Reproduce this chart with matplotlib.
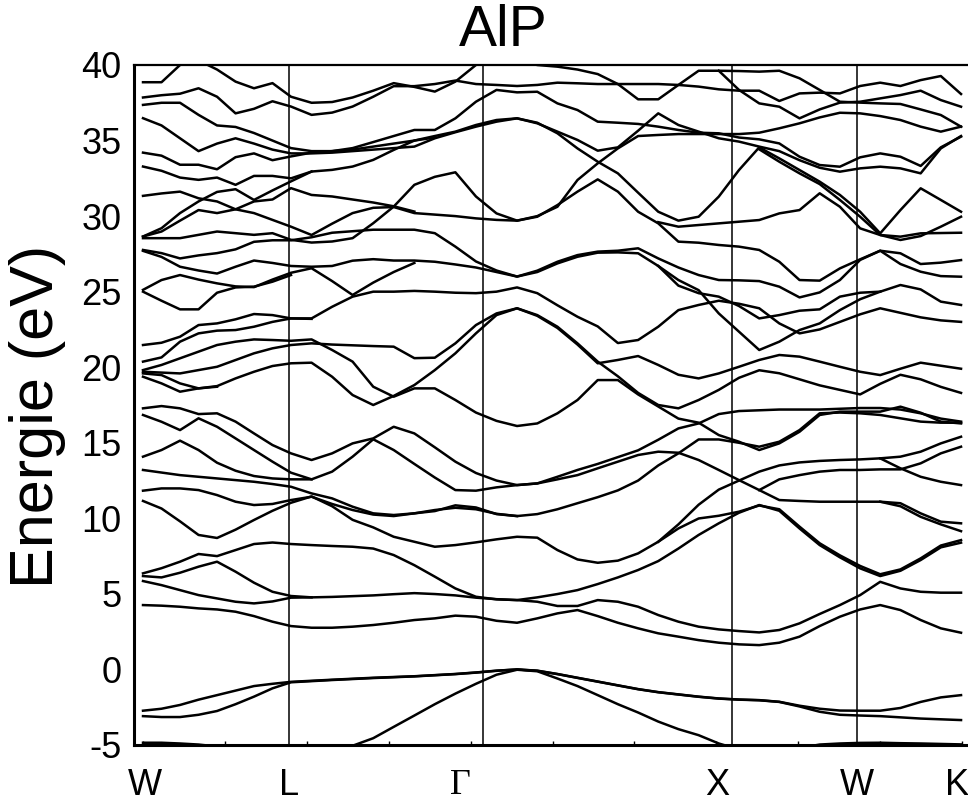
import matplotlib.pyplot as plt

plt.rcParams['axes.unicode_minus'] = False

# sample positions along the path W-L-G-X-W-K (W = 0, K = 100)
k_grid = [0.0, 2.26, 4.52, 6.78, 9.04, 11.30, 13.55, 15.81, 18.07, 20.58,
          23.09, 25.59, 28.11, 30.61, 33.13, 35.63, 38.14, 40.65, 43.16, 45.67,
          48.14, 50.60, 53.05, 55.52, 57.98, 60.45, 62.91, 65.37, 67.84, 70.30,
          72.77, 75.24, 77.69, 80.16, 82.62, 85.09, 87.56, 90.01, 92.48, 94.95,
          97.41, 99.88]

sym_lines = [17.83, 41.51, 71.92, 87.18]
label_pos = [0.2, 17.8, 38.7, 70.1, 87.2, 99.4]
label_txt = ['W', 'L', 'Γ', 'X', 'W', 'K']

# bands: (sample index, energy in eV)
valence = [
    [(0, -4.85), (1, -4.85), (2, -4.9), (3, -4.97), (4, -5.1), (5, -5.5)],
    [(32, -5.6), (33, -5.2), (34, -4.97), (35, -4.9), (36, -4.86), (37, -4.85), (38, -4.88), (39, -4.9), (40, -4.93), (41, -4.96)],
    [(11, -5.05), (12, -4.55), (13, -3.8), (14, -3.05), (15, -2.3), (16, -1.6), (17, -0.95), (18, -0.35), (19, -0.02), (20, -0.12),
     (21, -0.6), (22, -1.1), (23, -1.7), (24, -2.3), (25, -2.85), (26, -3.45), (27, -3.95), (28, -4.35), (29, -4.9), (30, -5.3)],
    [(0, -2.73), (1, -2.6), (2, -2.35), (3, -2.0), (4, -1.7), (5, -1.4), (6, -1.1), (7, -0.95), (8, -0.82), (10, -0.68), (12, -0.55),
     (14, -0.45), (16, -0.3), (17, -0.2), (18, -0.08), (19, 0.0), (20, -0.08), (21, -0.3), (22, -0.55), (23, -0.8), (24, -1.05),
     (25, -1.3), (26, -1.5), (27, -1.65), (28, -1.8), (29, -1.92), (30, -1.99), (31, -2.03), (32, -2.14), (33, -2.4), (34, -2.6),
     (35, -2.72), (36, -2.73), (37, -2.73), (38, -2.55), (39, -2.15), (40, -1.85), (41, -1.7)],
    [(0, -3.09), (1, -3.15), (2, -3.15), (3, -3.0), (4, -2.75), (5, -2.3), (6, -1.8), (7, -1.25), (8, -0.85), (10, -0.7), (12, -0.57),
     (14, -0.46), (16, -0.31), (17, -0.21), (18, -0.09), (19, 0.0), (20, -0.09), (21, -0.31), (22, -0.56), (23, -0.81), (24, -1.06),
     (25, -1.31), (26, -1.51), (27, -1.66), (28, -1.81), (29, -1.93), (30, -2.0), (31, -2.04), (32, -2.15), (33, -2.45), (34, -2.8),
     (35, -3.0), (36, -3.05), (37, -3.09), (38, -3.17), (39, -3.25), (40, -3.3), (41, -3.35)],
]

cond_low = [
    [(0, 4.26), (1, 4.22), (2, 4.15), (3, 4.04), (4, 3.97), (5, 3.82), (6, 3.53), (7, 3.16), (8, 2.87), (9, 2.76), (10, 2.76),
     (11, 2.83), (12, 2.94), (13, 3.09), (14, 3.27), (15, 3.38), (16, 3.56), (17, 3.49), (18, 3.22), (19, 3.09), (20, 3.38),
     (21, 3.71), (22, 3.93), (23, 3.53), (24, 3.09), (25, 2.72), (26, 2.39), (27, 2.17), (28, 1.94), (29, 1.77), (30, 1.66),
     (31, 1.61), (32, 1.77), (33, 2.17), (34, 2.87), (35, 3.49), (36, 3.97), (37, 4.26), (38, 3.93), (39, 3.27), (40, 2.72), (41, 2.43)],
    [(0, 6.18), (1, 6.09), (2, 6.4), (3, 6.8), (4, 7.13), (5, 6.47), (6, 5.74), (7, 5.14), (8, 4.86), (9, 4.77), (10, 4.8),
     (11, 4.85), (12, 4.9), (13, 4.98), (14, 5.05), (15, 4.99), (16, 4.9), (17, 4.75), (18, 4.65), (19, 4.59), (20, 4.48),
     (21, 4.2), (22, 4.2), (23, 4.59), (24, 4.48), (25, 4.15), (26, 3.6), (27, 3.16), (28, 2.83), (29, 2.65), (30, 2.54),
     (31, 2.45), (32, 2.61), (33, 3.05), (34, 3.67), (35, 4.26), (36, 4.92), (37, 5.8), (38, 5.36), (39, 5.14), (40, 5.08), (41, 5.08)],
    [(0, 5.85), (1, 5.58), (2, 5.25), (3, 4.92), (4, 4.7), (5, 4.48), (6, 4.37), (7, 4.5), (8, 4.75), (9, 4.77)],
    [(0, 6.36), (1, 6.7), (2, 7.13), (3, 7.64), (4, 7.5), (5, 7.9), (6, 8.3), (7, 8.4), (8, 8.3), (9, 8.23), (10, 8.17),
     (11, 8.12), (12, 8.0), (13, 7.57), (14, 6.9), (15, 6.14), (16, 5.36), (17, 4.81), (18, 4.64), (19, 4.59), (20, 4.77),
     (21, 4.99), (22, 5.25), (23, 5.65), (24, 6.09), (25, 6.58), (26, 7.17), (27, 8.0), (28, 8.9), (29, 9.67), (30, 10.37),
     (31, 10.88), (32, 10.5), (33, 9.33), (34, 8.23), (35, 7.42), (36, 6.69), (37, 6.18), (38, 6.53), (39, 7.24), (40, 8.08), (41, 8.39)],
    [(0, 11.15), (1, 10.65), (2, 9.8), (3, 8.9), (4, 8.7), (5, 9.25), (6, 9.89), (7, 10.5), (8, 11.03), (9, 11.45), (10, 10.8),
     (11, 9.9), (12, 9.4), (13, 8.78), (14, 8.45), (15, 8.12), (16, 8.23), (17, 8.41), (18, 8.61), (19, 8.78), (20, 8.72),
     (21, 7.9), (22, 7.28), (23, 7.06), (24, 7.2), (25, 7.68), (26, 8.45), (27, 9.33), (28, 9.99), (29, 10.17), (30, 10.44),
     (31, 10.85), (32, 10.6), (33, 9.45), (34, 8.35), (35, 7.55), (36, 6.85), (37, 6.3), (38, 6.62), (39, 7.35), (40, 8.2), (41, 8.56)],
    [(0, 11.83), (1, 11.98), (2, 11.98), (3, 11.87), (4, 11.54), (5, 11.1), (6, 10.88), (7, 10.95), (8, 11.21), (9, 11.43),
     (10, 10.95), (11, 10.55), (12, 10.25), (13, 10.15), (14, 10.33), (15, 10.48), (16, 10.86), (17, 10.72), (18, 10.28),
     (19, 10.15), (20, 10.28), (21, 10.6), (22, 11.0), (23, 11.4), (24, 11.85), (25, 12.5), (26, 13.5), (27, 14.3), (28, 15.22),
     (29, 15.22), (30, 15.0), (31, 14.74), (32, 15.07), (33, 15.84), (34, 16.95), (35, 17.0), (36, 16.95), (37, 16.84),
     (38, 16.62), (39, 16.4), (40, 16.33), (41, 16.33)],
    [(0, 13.2), (2, 12.86), (4, 12.64), (6, 12.42), (7, 12.27), (8, 12.09), (9, 11.65), (10, 11.32), (11, 10.77), (12, 10.33),
     (13, 10.22), (14, 10.33), (15, 10.55), (16, 10.7), (17, 10.6), (18, 10.3), (19, 10.15)],
    [(26, 8.45), (27, 9.6), (28, 10.9), (29, 11.9), (30, 12.5), (31, 13.09), (32, 13.5), (33, 13.7), (34, 13.8), (35, 13.86),
     (36, 13.9), (37, 13.97), (38, 13.31), (39, 12.75), (40, 12.42), (41, 12.2)],
    [(37, 13.97), (38, 14.08), (39, 14.41), (40, 14.96), (41, 15.4)],
    [(31, 11.87), (32, 12.58), (33, 12.86), (34, 13.09), (35, 13.2), (36, 13.2), (37, 13.24), (38, 13.24), (39, 13.64),
     (40, 14.3), (41, 14.74)],
    [(37, 11.1), (38, 10.8), (39, 10.1), (40, 9.6), (41, 9.15)],
]

cond_mid = [
    [(0, 17.28), (1, 17.43), (2, 17.28), (3, 16.9), (4, 16.95), (5, 16.4), (6, 15.62), (7, 14.85), (8, 14.3), (9, 13.86),
     (10, 14.3), (11, 14.96), (12, 15.29), (13, 16.06), (14, 15.62), (15, 14.7), (16, 13.75), (17, 13.0), (18, 12.5), (19, 12.2),
     (20, 12.31), (21, 12.75), (22, 13.2), (23, 13.6), (24, 14.05), (25, 14.5), (26, 15.2), (27, 15.95), (28, 16.28), (29, 16.9),
     (30, 17.1), (31, 17.15), (32, 17.2), (33, 17.2), (34, 17.2), (35, 17.25), (36, 17.3), (37, 17.3), (38, 17.2), (39, 16.95),
     (40, 16.6), (41, 16.4)],
    [(0, 16.84), (1, 16.39), (2, 15.84), (3, 16.62), (4, 16.06), (5, 15.29), (6, 14.52), (7, 13.75), (8, 13.02), (9, 12.58),
     (10, 13.09), (11, 14.08), (12, 15.23), (13, 14.52), (14, 13.6), (15, 12.7), (16, 11.87), (17, 11.83), (18, 12.05), (19, 12.2),
     (20, 12.31), (21, 12.58), (22, 12.86), (23, 13.31), (24, 13.75), (25, 14.19), (26, 14.41), (27, 14.34), (28, 13.86),
     (29, 13.2), (30, 12.53), (31, 11.87), (32, 11.21), (33, 11.15), (34, 11.1), (35, 11.1), (36, 11.1), (37, 11.1), (38, 11.0),
     (39, 10.33), (40, 9.78), (41, 9.67)],
    [(0, 14.08), (1, 14.52), (2, 15.14), (3, 14.52), (4, 13.68), (5, 13.15), (6, 12.8), (7, 12.64), (8, 12.58), (9, 12.58)],
    [(0, 19.81), (1, 20.15), (2, 20.59), (3, 21.03), (4, 21.47), (5, 21.69), (6, 21.84), (7, 21.8), (8, 21.75), (9, 21.84),
     (10, 21.14), (11, 20.37), (12, 18.71), (13, 18.05), (14, 18.6), (15, 18.6), (16, 17.83), (17, 17.0), (18, 16.45), (19, 16.11),
     (20, 16.28), (21, 16.95), (22, 17.83), (23, 19.15), (24, 19.15), (25, 18.2), (26, 17.4), (27, 16.6), (28, 16.33), (29, 15.51),
     (30, 15.07), (31, 14.52), (32, 14.96), (33, 15.73), (34, 16.84), (35, 17.06), (36, 17.06), (37, 17.06), (38, 17.39),
     (39, 16.99), (40, 16.4), (41, 16.28)],
    [(0, 19.7), (2, 19.59), (4, 20.03), (6, 20.92), (7, 21.25), (8, 21.47), (9, 21.58), (10, 21.5), (11, 21.45), (12, 21.4),
     (13, 21.36), (14, 20.6), (15, 20.63), (16, 21.58), (17, 22.79), (18, 23.56), (19, 23.9), (20, 23.45), (21, 22.68), (22, 21.58),
     (23, 20.37), (24, 19.4), (25, 18.3), (26, 17.5), (27, 17.28), (28, 17.83), (29, 18.5), (30, 19.3), (31, 19.8), (32, 19.6),
     (33, 19.2), (34, 18.8), (35, 18.5), (36, 18.2), (37, 18.9), (38, 19.5), (39, 19.2), (40, 18.7), (41, 18.3)],
    [(0, 19.59), (1, 19.48), (2, 18.93), (3, 18.6), (4, 18.75), (5, 19.26), (6, 19.7), (7, 20.08), (8, 20.26), (9, 20.3),
     (10, 19.37), (11, 18.16), (12, 17.5), (13, 18.1), (14, 18.82), (15, 19.81), (16, 20.92), (17, 22.24), (18, 23.45), (19, 23.9),
     (20, 23.4), (21, 22.6), (22, 21.5), (23, 20.26), (24, 20.48), (25, 20.74), (26, 20.15), (27, 19.5), (28, 19.26), (29, 19.59),
     (30, 20.03), (31, 20.48), (32, 20.81), (33, 20.7), (34, 20.37), (35, 20.03), (36, 19.7), (37, 19.48), (38, 19.9), (39, 20.3),
     (40, 20.1), (41, 19.9)],
    [(0, 19.37), (1, 18.93), (2, 18.38), (3, 18.6), (4, 18.71)],
    [(0, 21.47), (1, 21.62), (2, 22.02), (3, 22.79), (4, 22.9), (5, 23.17), (6, 23.52), (7, 23.45), (8, 23.23), (9, 23.23),
     (10, 24.0), (11, 24.67), (12, 25.0), (13, 25.0), (14, 25.05), (15, 25.0), (16, 24.93), (17, 24.9), (18, 25.0), (19, 25.28),
     (20, 24.9), (21, 24.1), (22, 23.34), (23, 22.7), (24, 21.6), (25, 21.8), (26, 22.68), (27, 23.78), (28, 24.12), (29, 24.4),
     (30, 24.2), (31, 23.9), (32, 22.9), (33, 22.24), (34, 22.5), (35, 23.0), (36, 23.5), (37, 23.9), (38, 23.6), (39, 23.3),
     (40, 23.1), (41, 23.0)],
    [(0, 20.37), (1, 20.65), (2, 21.69), (3, 22.24), (4, 22.42), (5, 22.46), (6, 22.68), (7, 23.0), (8, 23.23), (9, 23.2)],
    [(0, 25.0), (1, 24.4), (2, 23.83), (3, 23.83), (4, 24.93), (5, 25.28), (6, 25.33), (7, 25.66), (8, 26.1)],
    [(26, 26.7), (27, 25.77), (28, 25.1), (29, 23.56), (30, 22.35), (31, 21.14), (32, 21.69), (33, 22.46), (34, 22.9),
     (35, 23.78), (36, 24.5), (37, 25.0)],
]

cond_high = [
    [(0, 38.86), (1, 38.86), (2, 40.0), (3, 40.3), (4, 39.7), (5, 38.9), (6, 38.46), (7, 38.8), (8, 37.9), (9, 37.5),
     (10, 37.55), (11, 37.85), (12, 38.3), (13, 38.8), (14, 38.55), (15, 38.24), (16, 38.9), (17, 40.0), (18, 40.6)],
    [(0, 37.85), (1, 38.0), (2, 38.1), (3, 38.46), (4, 37.9), (5, 36.8), (6, 37.1), (7, 37.6), (8, 37.25), (9, 36.7),
     (10, 36.85), (11, 37.25), (12, 37.9), (13, 38.6), (14, 38.6), (15, 38.74), (16, 38.97), (17, 38.74), (18, 38.68),
     (19, 38.61), (20, 38.68), (21, 38.83), (22, 38.79), (23, 38.74), (24, 38.74), (25, 38.74), (26, 38.74), (27, 38.68),
     (28, 38.57), (29, 38.39), (30, 38.3), (31, 38.3), (32, 37.62), (33, 38.12), (34, 38.17), (35, 38.12), (36, 38.61),
     (37, 38.83), (38, 38.61), (39, 39.0), (40, 39.27), (41, 38.08)],
    [(18, 40.5), (19, 40.3), (20, 40.0), (21, 39.89), (22, 39.7), (23, 39.4), (24, 38.74), (25, 37.73), (26, 37.73), (27, 38.68),
     (28, 39.62), (29, 39.62), (30, 39.6), (31, 39.56), (32, 39.62), (33, 39.12), (34, 38.35), (35, 37.57), (36, 37.51),
     (37, 37.46), (38, 37.42), (39, 37.06), (40, 36.69), (41, 35.92)],
    [(29, 39.62), (30, 38.35), (31, 37.46), (32, 37.24), (33, 36.47), (34, 37.06), (35, 37.51), (36, 37.57), (37, 37.79),
     (38, 38.01), (39, 38.3), (40, 37.68), (41, 37.24)],
    [(0, 37.36), (1, 37.5), (2, 37.5), (3, 36.7), (4, 36.0), (5, 35.9), (6, 35.5), (7, 35.0), (8, 34.5), (9, 34.3), (10, 34.3),
     (11, 34.5), (12, 34.9), (13, 35.3), (14, 35.7), (15, 35.7), (16, 36.47), (17, 37.57), (18, 38.35), (19, 38.19), (20, 38.23),
     (21, 37.46), (22, 37.02), (23, 36.25), (24, 36.18), (25, 36.1), (26, 35.92), (27, 35.7), (28, 35.52), (29, 35.48),
     (30, 35.2), (31, 35.08), (32, 34.81), (33, 33.93), (34, 33.38), (35, 33.27), (36, 33.89), (37, 34.15), (38, 33.93),
     (39, 33.32), (40, 34.55), (41, 35.26)],
    [(0, 36.48), (1, 36.0), (2, 35.15), (3, 34.3), (4, 34.8), (5, 35.15), (6, 34.8), (7, 34.4), (8, 34.15), (9, 34.15),
     (10, 34.2), (11, 34.3), (12, 34.4), (13, 34.5), (14, 34.6), (15, 35.15), (16, 35.55), (17, 35.92), (18, 36.25), (19, 36.47),
     (20, 36.14), (21, 35.59), (22, 35.04), (23, 34.33), (24, 34.55), (25, 35.65), (26, 36.8), (27, 36.03), (28, 35.59),
     (29, 35.15), (30, 34.93), (31, 34.6), (32, 34.3), (33, 33.7), (34, 33.2), (35, 32.94), (36, 33.16), (37, 33.27),
     (38, 33.16), (39, 32.83), (40, 34.48), (41, 35.3)],
    [(0, 34.2), (1, 34.0), (2, 33.4), (3, 33.4), (4, 33.1), (5, 33.9), (6, 34.15), (7, 33.7), (8, 33.95), (9, 34.2), (10, 34.3),
     (11, 34.4), (12, 34.6), (13, 34.8), (14, 35.0), (15, 35.3), (16, 35.59), (17, 36.03), (18, 36.36), (19, 36.47), (20, 36.18),
     (21, 35.48), (22, 34.48), (23, 33.6), (24, 32.83), (25, 31.55), (26, 30.29), (27, 29.7), (28, 29.96), (29, 31.29),
     (30, 33.05), (31, 34.55), (32, 33.82), (33, 33.05), (34, 32.28), (35, 31.4), (36, 30.29), (37, 28.86), (38, 30.4),
     (39, 31.84), (40, 31.07), (41, 30.29)],
    [(31, 34.42), (32, 33.6), (33, 32.83), (34, 32.12), (35, 31.07), (36, 29.96), (37, 28.75), (38, 28.64), (39, 28.86),
     (40, 28.88), (41, 28.9)],
    [(0, 33.28), (1, 33.0), (2, 32.55), (3, 32.4), (4, 32.55), (5, 32.07), (6, 32.66), (7, 32.66), (8, 32.5), (9, 32.95),
     (10, 33.06), (11, 33.28), (12, 33.72), (13, 34.38), (14, 35.0), (15, 35.2)],
    [(0, 31.34), (1, 31.5), (2, 31.62), (3, 31.18), (4, 30.97), (5, 30.45), (6, 30.97), (7, 31.1), (8, 31.85), (9, 31.4),
     (10, 31.3), (11, 31.1), (12, 30.9), (13, 30.65), (14, 30.3)],
    [(0, 28.65), (1, 29.2), (2, 30.2), (3, 30.97), (4, 31.6), (5, 31.78), (6, 31.07), (7, 31.7), (8, 32.3), (9, 32.95)],
    [(0, 28.65), (1, 28.98), (2, 29.7), (3, 30.4), (4, 30.2), (5, 30.45), (6, 30.2), (7, 29.75), (8, 29.3), (9, 28.75),
     (10, 29.5), (11, 30.2), (12, 30.55), (13, 30.6), (14, 30.2), (15, 30.1), (16, 30.0), (17, 29.85), (18, 29.75), (19, 29.7),
     (20, 30.0), (21, 30.62), (22, 32.39), (23, 33.49), (24, 34.48), (25, 35.3), (26, 35.37), (27, 35.43), (28, 35.43),
     (29, 35.43), (30, 35.43), (31, 35.52), (32, 35.81), (33, 36.14), (34, 36.53), (35, 36.84), (36, 36.8), (37, 36.62),
     (38, 36.36), (39, 35.92), (40, 35.59), (41, 35.92)],
    [(0, 28.54), (2, 28.54), (4, 28.98), (5, 28.87), (6, 28.76), (7, 28.87), (8, 28.43), (9, 28.25), (10, 28.32), (11, 28.54),
     (12, 29.53), (13, 30.63), (14, 32.07), (15, 32.6), (16, 32.9), (17, 31.3), (18, 30.18), (19, 29.7), (20, 29.96),
     (21, 30.73), (22, 31.62), (23, 32.43), (24, 31.62), (25, 30.29), (26, 29.52), (27, 28.31), (28, 28.24), (29, 28.09),
     (30, 27.98), (31, 27.76), (32, 26.98), (33, 25.77), (34, 25.73), (35, 26.54), (36, 27.14), (37, 27.71), (38, 26.83),
     (39, 26.32), (40, 26.03), (41, 25.99)],
    [(26, 29.6), (27, 29.3), (28, 29.41), (29, 29.52), (30, 29.63), (31, 29.74), (32, 30.18), (33, 30.4), (34, 31.51),
     (35, 30.62), (36, 29.19), (37, 28.75), (38, 28.42), (39, 28.68), (40, 29.3), (41, 29.96)],
    [(0, 27.76), (1, 27.55), (2, 27.2), (3, 27.4), (4, 27.55), (5, 27.8), (6, 28.3), (7, 28.4), (8, 28.4), (9, 28.6),
     (10, 28.9), (11, 29.0), (12, 29.1), (13, 29.1), (14, 29.1), (15, 28.87), (16, 27.98), (17, 27.0), (18, 26.4), (19, 26.0),
     (20, 26.39), (21, 26.98), (22, 27.42), (23, 27.65), (24, 27.71), (25, 27.87), (26, 27.2), (27, 26.6), (28, 26.1),
     (29, 25.77), (30, 25.75), (31, 25.7), (32, 25.33), (33, 24.62), (34, 24.95), (35, 25.77), (36, 27.1), (37, 27.71),
     (38, 27.54), (39, 26.83), (40, 26.92), (41, 27.09)],
    [(0, 27.7), (1, 27.3), (2, 26.65), (3, 26.4), (4, 26.2), (5, 26.65), (6, 27.06), (7, 26.9), (8, 26.7), (9, 26.65),
     (10, 26.7), (11, 27.05), (12, 27.15), (13, 27.06), (14, 27.06), (15, 26.98), (16, 26.8), (17, 26.6), (18, 26.3), (19, 26.0),
     (20, 26.3), (21, 26.87), (22, 27.31), (23, 27.58), (24, 27.6), (25, 27.54), (26, 26.7), (27, 25.4), (28, 24.9), (29, 24.67),
     (30, 24.05), (31, 23.23), (32, 23.45), (33, 23.74), (34, 23.83), (35, 24.67), (36, 24.93), (37, 25.0), (38, 25.44),
     (39, 25.15), (40, 24.34), (41, 24.12)],
    [(0, 25.12), (1, 25.77), (2, 26.1), (3, 25.8), (4, 25.55), (5, 25.35), (6, 25.3), (7, 25.8), (8, 26.25), (9, 26.55),
     (10, 25.7), (11, 24.78), (12, 25.6), (13, 26.3), (14, 26.9)],
]

plt.rcParams['font.family'] = ['Liberation Sans', 'DejaVu Sans']

fig = plt.figure(figsize=(9.68, 8.07), dpi=100)
ax = fig.add_axes([134 / 968, 62 / 807, 834 / 968, 680 / 807])

for group in (valence, cond_low, cond_mid, cond_high):
    for band in group:
        xs = [k_grid[i] for i, e in band]
        ys = [e for i, e in band]
        ax.plot(xs, ys, color='black', lw=1.8)

for x in sym_lines:
    ax.axvline(x, color='black', lw=1.1)

ax.set_xlim(-1.1, 100.73)
ax.set_ylim(-5, 40)
ax.set_yticks(range(-5, 41, 5))
ax.set_xticks(range(0, 101, 10))
ax.set_xticklabels([])
ax.tick_params(axis='x', direction='in', length=3, width=1)
ax.tick_params(axis='y', length=0, pad=9, labelsize=26)
ax.spines['right'].set_visible(False)
ax.spines['left'].set_linewidth(2.2)
ax.spines['bottom'].set_linewidth(2.2)
ax.spines['top'].set_linewidth(1.6)

for x, t in zip(label_pos, label_txt):
    fam = ['Liberation Serif'] if t == 'Γ' else None
    ax.text(x, -0.06, t, transform=ax.get_xaxis_transform(), ha='center', va='center',
            fontsize=26, family=fam)

fig.text(38 / 968, 1 - 416 / 807, 'Energie (eV)', rotation=90, ha='center', va='center', fontsize=44)
fig.text(503 / 968, 1 - 31 / 807, 'AlP', ha='center', va='center', fontsize=41)

fig.savefig('out.png', dpi=100)
